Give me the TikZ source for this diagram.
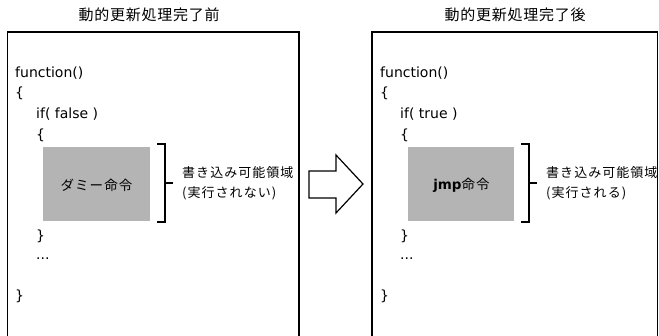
\documentclass[tikz,border=0pt]{standalone}
\usepackage{fontspec}
\setmainfont{DejaVu Sans}
\newfontfamily\jpf[LetterSpace=8]{Noto Sans CJK JP}
\newfontfamily\jptitle[LetterSpace=5]{Noto Sans CJK JP}
\newfontfamily\codef{DejaVu Sans}
\definecolor{grayfill}{RGB}{180,180,180}
\begin{document}
\begin{tikzpicture}[x=1pt,y=-1pt,
  panel/.style={draw=black,line width=1.3pt},
  code/.style={anchor=base west,inner sep=0pt,font=\codef\fontsize{14}{15}\selectfont},
  graybox/.style={fill=grayfill,draw=none},
  brk/.style={draw=black,line width=1.2pt},
  lbl/.style={anchor=west,inner sep=0pt,font=\jpf\fontsize{13}{15}\selectfont},
  ttl/.style={inner sep=0pt,font=\jptitle\fontsize{15}{17}\selectfont},
  blockarrow/.style={draw=black,line width=1.2pt,fill=white,line join=miter}]
\useasboundingbox (0,0) rectangle (659,335);
\fill[white] (0,0) rectangle (659,335);
% titles
\node[ttl] (t1) at (149,15) {動的更新処理完了前};
\node[ttl] (t2) at (515,15) {動的更新処理完了後};
% panels
\draw[panel] (7.5,340) -- (7.5,32) -- (299,32) -- (299,340);
\draw[panel] (372,340) -- (372,32) -- (657.5,32) -- (657.5,340);
% left code
\node[code] (lf) at (15,77) {function()};
\node[code] (lb1) at (15,97) {\{};
\node[code] (lif) at (36,118) {if( false )};
\node[code] (lb2) at (36,139) {\{};
\node[code] (lb3) at (36,240) {\}};
\node[code] (ld) at (36,259) {...};
\node[code] (lb4) at (15,300) {\}};
\fill[graybox] (43,147) rectangle (150,221);
\node[font=\jpf\fontsize{13.5}{15}\selectfont] (lcmd) at (96.5,185) {ダミー命令};
\draw[brk] (157,144) -- (165,144) -- (165,222) -- (157,222);
\coordinate (lm1) at (165,183);
\coordinate (lm2) at (173,183);
\draw[brk] (lm1) -- (lm2);
\node[lbl] (ll1) at (182,173) {書き込み可能領域};
\node[lbl] (ll2) at (182,193) {(実行されない)};
% arrow
\draw[blockarrow] (309,171) -- (336,171) -- (336,155) -- (363,184) -- (336,213) -- (336,198) -- (309,198) -- cycle;
% right code
\node[code] (rf) at (380,77) {function()};
\node[code] (rb1) at (380,97) {\{};
\node[code] (rif) at (400,118) {if( true )};
\node[code] (rb2) at (400,139) {\{};
\node[code] (rb3) at (400,240) {\}};
\node[code] (rd) at (400,259) {...};
\node[code] (rb4) at (380,300) {\}};
\fill[graybox] (408,147) rectangle (514,221);
\node[font=\fontsize{13.5}{15}\selectfont] (rcmd) at (461.5,185) {\textbf{jmp}{\jpf 命令}};
\draw[brk] (521,144) -- (529,144) -- (529,222) -- (521,222);
\coordinate (rm1) at (529,183);
\coordinate (rm2) at (537,183);
\draw[brk] (rm1) -- (rm2);
\node[lbl] (rl1) at (546,173) {書き込み可能領域};
\node[lbl] (rl2) at (546,193) {(実行される)};
\end{tikzpicture}
\end{document}
